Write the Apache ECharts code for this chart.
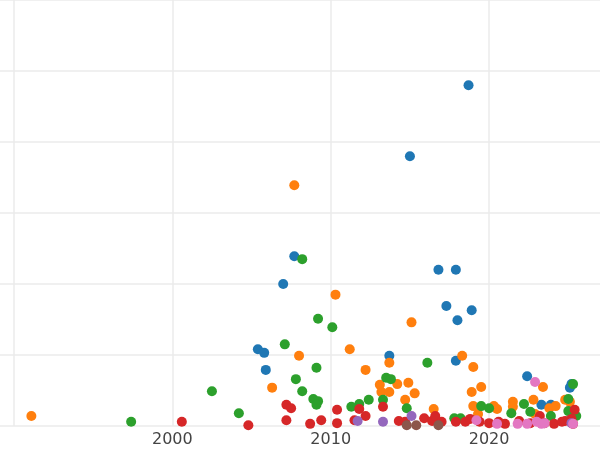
<!DOCTYPE html>
<html><head><meta charset="utf-8">
<script src="https://cdn.jsdelivr.net/npm/echarts@6/dist/echarts.min.js"></script>
<style>html,body{margin:0;padding:0;background:#fff}#c{width:600px;height:450px}</style>
</head><body><div id="c"></div>
<script>
const xTicks = [1990, 2000, 2010, 2020];
const xLabels = ['', '2000', '2010', '2020'];
const blue = [[2018.7,4.80],[2015.0,3.80],[2007.7,2.39],[2007.0,2.00],[2016.8,2.20],[2017.9,2.20],[2017.3,1.69],[2018.9,1.63],[2018.0,1.49],[2005.4,1.08],[2005.8,1.03],[2005.9,0.79],[2013.7,0.99],[2017.9,0.92],[2022.4,0.70],[2025.2,0.59],[2025.1,0.54],[2023.3,0.30],[2023.9,0.30]];
const orange = [[1991.1,0.14],[2007.7,3.39],[2010.3,1.85],[2015.1,1.46],[2011.2,1.08],[2008.0,0.99],[2012.2,0.79],[2013.7,0.89],[2018.3,0.99],[2019.0,0.83],[2006.3,0.54],[2013.1,0.58],[2013.2,0.48],[2014.2,0.59],[2014.9,0.61],[2013.7,0.48],[2015.3,0.46],[2019.5,0.55],[2018.9,0.48],[2014.7,0.37],[2019.0,0.28],[2020.3,0.28],[2020.5,0.24],[2021.5,0.34],[2021.5,0.27],[2022.8,0.37],[2023.4,0.55],[2023.8,0.25],[2024.8,0.37],[2016.5,0.24],[2019.3,0.17],[2022.9,0.17],[2024.2,0.28],[2025.1,0.34]];
const green = [[2008.2,2.35],[2009.2,1.51],[2010.1,1.39],[2007.1,1.15],[2009.1,0.82],[2007.8,0.66],[2008.2,0.49],[2008.9,0.38],[2009.2,0.35],[2009.1,0.30],[2002.5,0.49],[2004.2,0.18],[1997.4,0.06],[2013.5,0.68],[2013.8,0.66],[2016.1,0.89],[2012.4,0.37],[2011.8,0.31],[2011.3,0.27],[2013.3,0.37],[2014.8,0.25],[2017.8,0.11],[2018.2,0.11],[2019.5,0.28],[2020.0,0.25],[2022.2,0.31],[2021.4,0.18],[2022.6,0.20],[2023.9,0.14],[2025.0,0.21],[2025.5,0.14],[2025.3,0.59],[2025.0,0.38],[2023.2,0.08]];
const red = [[2000.6,0.06],[2004.8,0.01],[2007.2,0.30],[2007.5,0.25],[2007.2,0.08],[2008.7,0.03],[2009.4,0.08],[2010.4,0.23],[2010.4,0.04],[2011.8,0.24],[2012.2,0.14],[2011.5,0.08],[2013.3,0.27],[2014.3,0.07],[2014.7,0.06],[2015.9,0.11],[2016.4,0.07],[2016.6,0.14],[2017.0,0.06],[2017.9,0.06],[2018.5,0.06],[2018.8,0.10],[2019.4,0.06],[2020.0,0.04],[2020.6,0.06],[2021.0,0.03],[2021.9,0.07],[2022.6,0.04],[2023.5,0.04],[2024.1,0.03],[2024.6,0.06],[2024.8,0.07],[2025.2,0.10],[2025.3,0.03],[2023.2,0.14],[2025.4,0.23]];
const purple = [[2011.7,0.07],[2013.3,0.06],[2015.1,0.14],[2025.2,0.04]];
const brown = [[2014.8,0.01],[2015.4,0.01],[2016.8,0.01]];
const pink = [[2022.9,0.62],[2019.2,0.08],[2020.5,0.03],[2021.8,0.03],[2022.4,0.03],[2023.0,0.06],[2023.3,0.03],[2025.3,0.03],[2023.5,0.04]];
const groups = [blue, orange, green, red, purple, brown, pink];
const colors = ['#1f77b4','#ff7f0e','#2ca02c','#d62728','#9467bd','#8c564b','#e377c2'];
const chart = echarts.init(document.getElementById('c'));
chart.setOption({
  animation:false,
  grid:{left:0,right:0,top:0,bottom:24},
  xAxis:{type:'value',min:1989.12,max:2027,
    axisLine:{show:false},axisTick:{show:false,customValues:xTicks},
    axisLabel:{customValues:xTicks,formatter:v=>xLabels[xTicks.indexOf(Math.round(v))]||'',color:'#444',fontSize:16,fontFamily:'DejaVu Sans',margin:6},
    splitLine:{show:true,lineStyle:{color:'#ebebeb',width:1.5}}},
  yAxis:{type:'value',min:0,max:6,interval:1,axisLine:{show:false},axisTick:{show:false},axisLabel:{show:false},
    splitLine:{lineStyle:{color:'#ebebeb',width:1.5}}},
  series:groups.map((g,i)=>({type:'scatter',data:g,symbolSize:10,clip:true,itemStyle:{color:colors[i],opacity:1}}))
});
</script></body></html>
